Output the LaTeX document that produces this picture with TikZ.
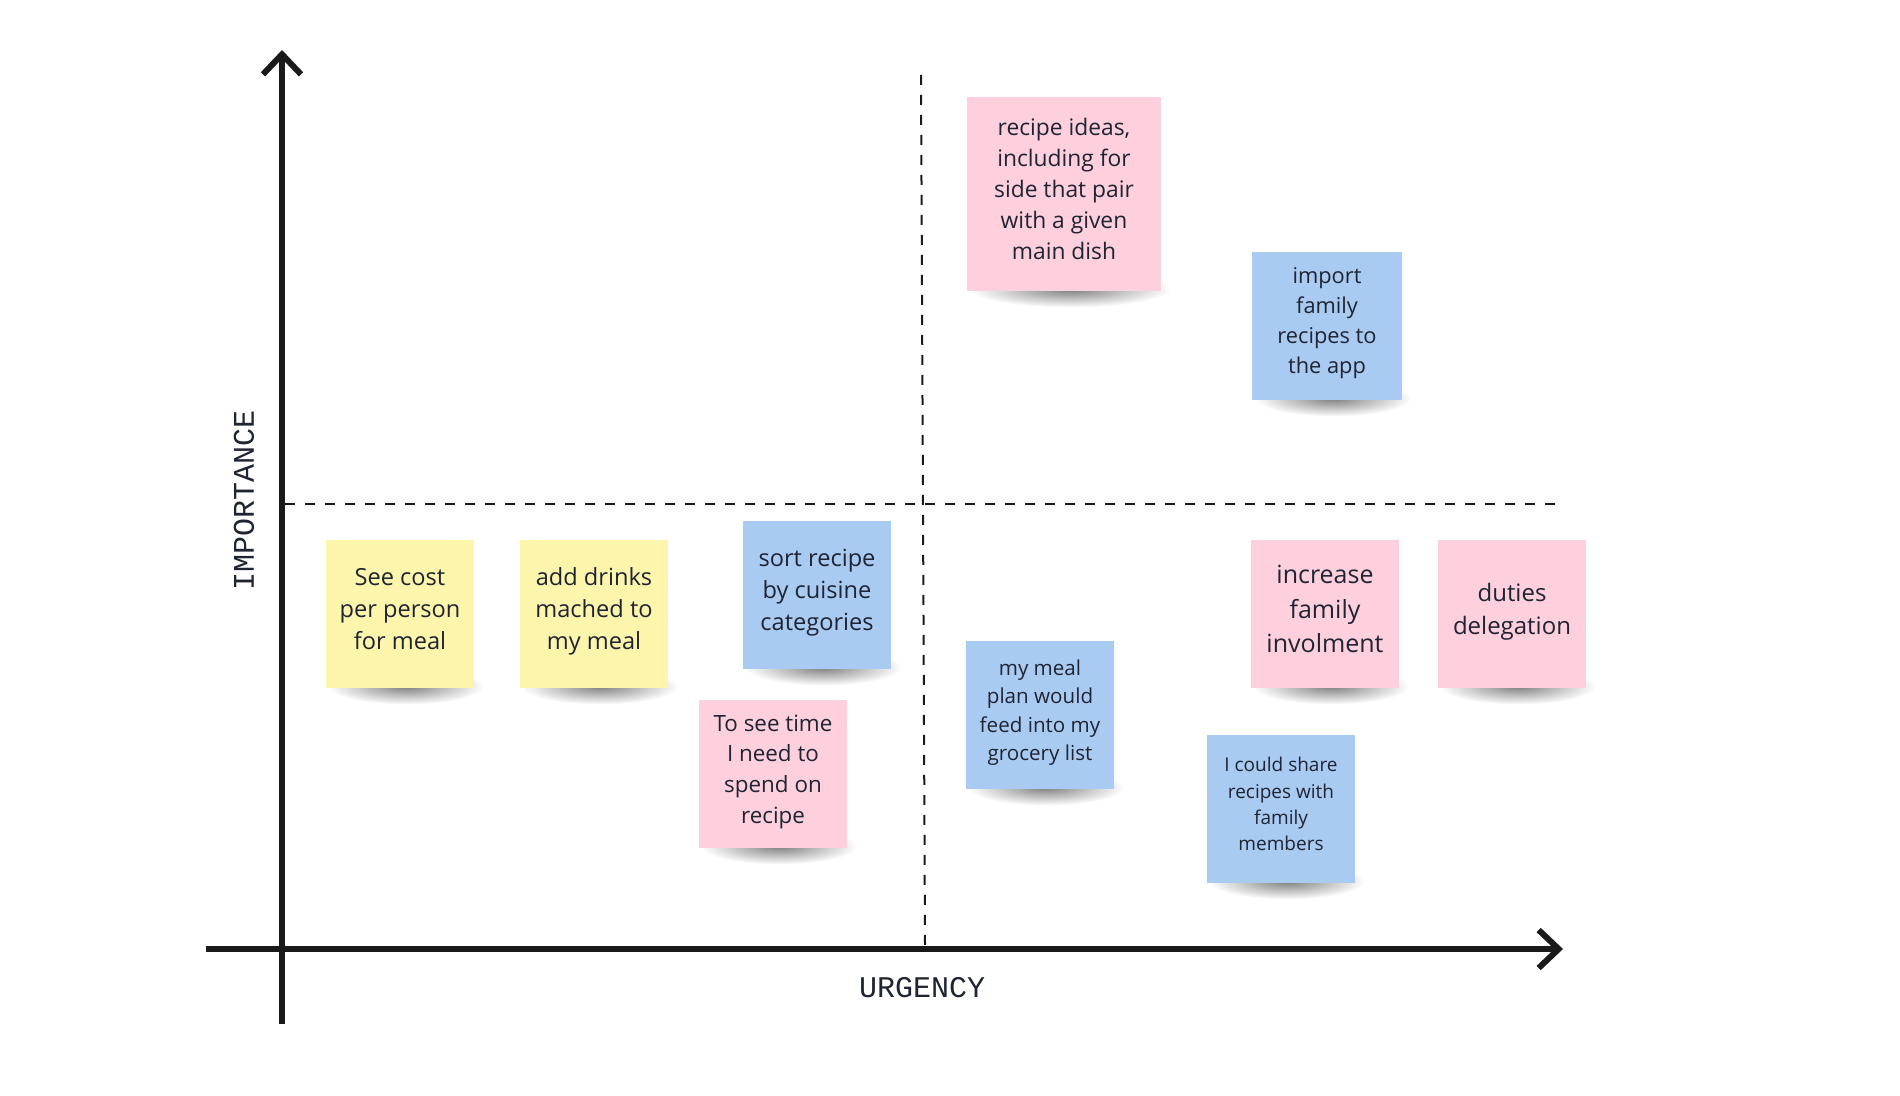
\documentclass[tikz,border=0pt]{standalone}
\usepackage{fontspec}
\setmainfont{Open Sans}
\newfontfamily\axisfont{Liberation Mono}
\usetikzlibrary{arrows.meta,fadings,backgrounds}

\definecolor{notepink}{HTML}{FECFDC}
\definecolor{noteblue}{HTML}{A9CBF2}
\definecolor{noteyellow}{HTML}{FDF5AC}
\definecolor{inkdark}{HTML}{1F2433}
\definecolor{axisink}{HTML}{1A1A1A}

\tikzfading[name=softedge, inner color=transparent!0, outer color=transparent!100]

\tikzset{
  note/.style={fill=#1, minimum width=74pt, minimum height=74pt, inner sep=2pt,
    text depth=5pt, align=center, text=inkdark},
  fs/.style 2 args={font=\fontsize{#1}{#2}\selectfont},
  axis/.style={line width=3pt, draw=axisink, -{Straight Barb[length=10pt,width=19pt]}},
  quad/.style={line width=1pt, dash pattern=on 5pt off 5pt, draw=axisink},
  axislabel/.style={text=inkdark, font=\axisfont\fontsize{15}{18}\selectfont},
  notesh/.style={fill=black, fill opacity=0.5, path fading=softedge}
}

\begin{document}
\begin{tikzpicture}[x=0.5pt,y=-0.5pt]
  \useasboundingbox (0,0) rectangle (1900,1096);

  \coordinate (yfoot) at (282,1024);
  \coordinate (ytip) at (282,50);
  \coordinate (xfoot) at (206,949);
  \coordinate (xtip) at (1563,949);
  \coordinate (vtop) at (921,75);
  \coordinate (vbot) at (925,945);
  \coordinate (hleft) at (285,504);
  \coordinate (hright) at (1561,504);

  \draw[quad] (vtop) -- (vbot);
  \draw[quad] (hleft) -- (hright);
  \draw[axis] (yfoot) -- (ytip);
  \draw[axis] (xfoot) -- (xtip);

  \node[axislabel, rotate=90] (importance) at (244,500) {IMPORTANCE};
  \node[axislabel] (urgency) at (922,988) {URGENCY};

  \node[note=notepink, minimum width=97pt, minimum height=97pt, fs={11.4}{15.5}] (ideas) at (1064,194)
    {recipe ideas,\\including for\\side that pair\\with a given\\main dish};
  \node[note=noteblue, minimum width=75pt, fs={10.9}{15}] (import) at (1327,326)
    {import\\family\\recipes to\\the app};
  \node[note=noteyellow, fs={11.8}{16}] (cost) at (400,614)
    {See cost\\per person\\for meal};
  \node[note=noteyellow, fs={11.8}{16}] (drinks) at (594,614)
    {add drinks\\mached to\\my meal};
  \node[note=noteblue, fs={11.8}{16}] (sortrec) at (817,595)
    {sort recipe\\by cuisine\\categories};
  \node[note=notepink, fs={11.2}{15.3}] (timespend) at (773,774)
    {To see time\\ I need to\\spend on\\recipe};
  \node[note=noteblue, fs={10.3}{14.2}] (grocery) at (1040,715)
    {my meal\\plan would\\feed into my\\grocery list};
  \node[note=notepink, fs={12.5}{17.2}] (involve) at (1325,614)
    {increase\\family\\involment};
  \node[note=notepink, fs={12}{16.4}] (duties) at (1512,614)
    {duties\\delegation};
  \node[note=noteblue, fs={9.5}{13.2}] (share) at (1281,809)
    {I could share\\recipes with\\family\\members};

  \begin{scope}[on background layer]
    \foreach \n/\rad in {ideas/50,import/39,cost/39,drinks/39,sortrec/39,
        timespend/39,grocery/39,involve/39,duties/39,share/39}
      \fill[notesh] ([xshift=3pt,yshift=1pt]\n.south) ellipse [x radius=\rad pt, y radius=9pt];
  \end{scope}
\end{tikzpicture}
\end{document}
